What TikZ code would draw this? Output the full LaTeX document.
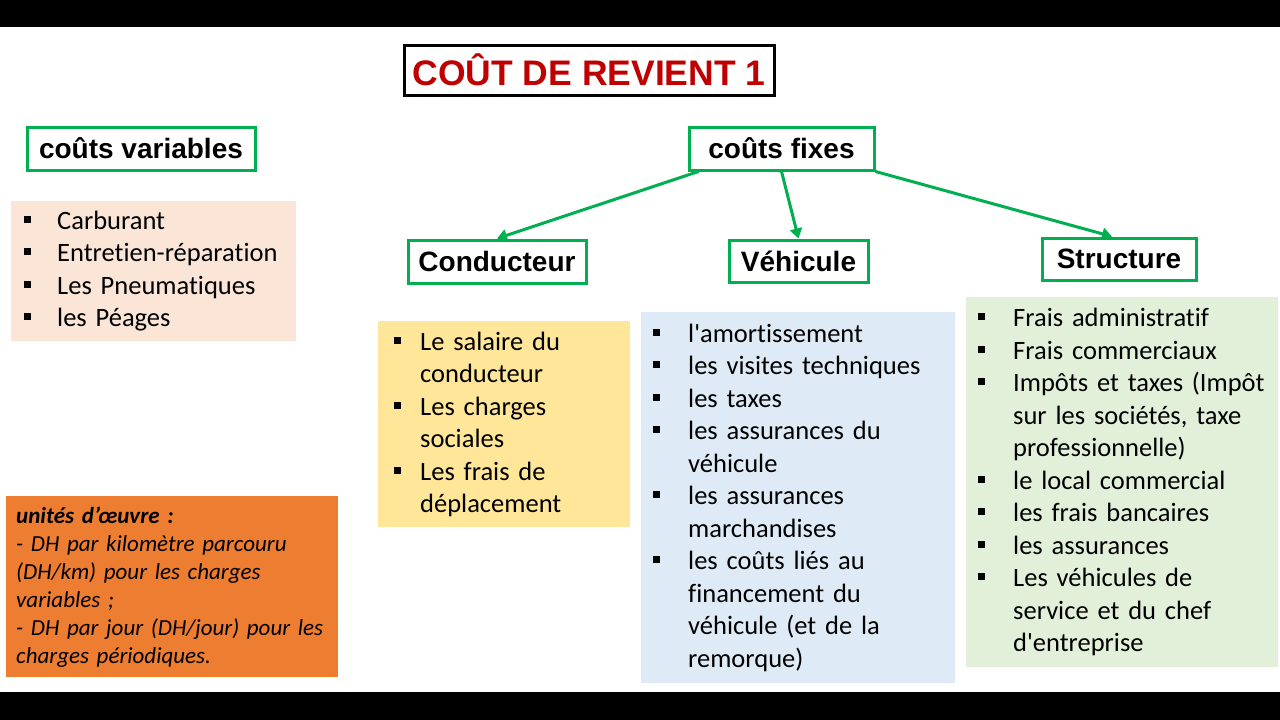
\documentclass[tikz,border=0pt]{standalone}
\usepackage{fontspec}
\setmainfont{Carlito}[Ligatures={TeXOff,NoCommon}]
\newfontfamily\headfont{Liberation Sans}
\usepackage{xcolor}
\usetikzlibrary{positioning, arrows.meta}

\definecolor{vert}{HTML}{00B050}
\definecolor{rouge}{HTML}{C00000}
\definecolor{peche}{HTML}{FBE5D6}
\definecolor{jaune}{HTML}{FFE699}
\definecolor{bleuclair}{HTML}{DEEBF7}
\definecolor{vertclair}{HTML}{E2F0D9}
\definecolor{oeuvre}{HTML}{ED7D31}

\newlength{\bulw}
\newcommand{\itm}[1]{\mbox{\makebox[\bulw][l]{\rule[6.5pt]{7pt}{7pt}}#1}}
\newcommand{\cnt}[1]{\mbox{\hspace*{\bulw}#1}}

\begin{document}
\begin{tikzpicture}[
    x=1pt, y=-1pt,
    head/.style={rectangle, draw=vert, line width=3pt, fill=white, inner sep=0pt, font=\headfont\bfseries\fontsize{28}{32}\selectfont},
    list/.style={rectangle, anchor=north west, align=left, inner ysep=0pt, font=\fontsize{26.5}{32.5}\selectfont},
    bul/.style={execute at begin node={\setlength{\bulw}{#1}}},
    arrow/.style={draw=vert, line width=3pt, -{Triangle[length=10pt, width=12pt]}}
]
    \useasboundingbox (0,0) rectangle (1280,720);
    \fill[white] (0,0) rectangle (1280,720);
    \fill[black] (0,0) rectangle (1280,27);
    \fill[black] (0,692) rectangle (1280,720);

    \node[draw, line width=3pt, minimum width=370, minimum height=50, inner sep=0pt, text=rouge, font=\headfont\bfseries\fontsize{35.5}{40}\selectfont] (titre) at (589,70) {COÛT DE REVIENT 1};

    \node[head, minimum width=228, minimum height=43] (var) at (141,148.5) {coûts variables};
    \node[head, minimum width=185, minimum height=43] (fixes) at (781.5,148.5) {coûts fixes};
    \node[head, minimum width=178, minimum height=43] (cond) at (497,261.5) {Conducteur};
    \node[head, minimum width=139, minimum height=42] (vehi) at (798.5,261) {Véhicule};
    \node[head, minimum width=154, minimum height=42] (struct) at (1119,259) {Structure};

    \node[list, bul=33pt, fill=peche, inner xsep=13, text width=259, minimum height=140] (varlist) at (11,201) {%
        \itm{Carburant}\\
        \itm{Entretien-réparation}\\
        \itm{Les Pneumatiques}\\
        \itm{les Péages}};

    \node[list, bul=26pt, fill=jaune, inner xsep=16, text width=220, minimum height=206] (condlist) at (378,321) {%
        \itm{Le salaire du}\\
        \cnt{conducteur}\\
        \itm{Les charges}\\
        \cnt{sociales}\\
        \itm{Les frais de}\\
        \cnt{déplacement}};

    \node[list, bul=35pt, fill=bleuclair, inner xsep=12, text width=290, minimum height=371] (vehilist) at (641,312) {%
        \itm{l'amortissement}\\
        \itm{les visites techniques}\\
        \itm{les taxes}\\
        \itm{les assurances du}\\
        \cnt{véhicule}\\
        \itm{les assurances}\\
        \cnt{marchandises}\\
        \itm{les coûts liés au}\\
        \cnt{financement du}\\
        \cnt{véhicule (et de la}\\
        \cnt{remorque)}};

    \node[list, bul=35pt, fill=vertclair, inner xsep=12, text width=288, minimum height=370] (structlist) at (966,297) {%
        \itm{Frais administratif}\\
        \itm{Frais commerciaux}\\
        \itm{Impôts et taxes (Impôt}\\
        \cnt{sur les sociétés, taxe}\\
        \cnt{professionnelle)}\\
        \itm{le local commercial}\\
        \itm{les frais bancaires}\\
        \itm{les assurances}\\
        \itm{Les véhicules de}\\
        \cnt{service et du chef}\\
        \cnt{d'entreprise}};

    \node[list, fill=oeuvre, inner xsep=10, text width=312, minimum height=181, font=\itshape\fontsize{23}{28}\selectfont] (unites) at (6,496) {%
        \mbox{\bfseries unités d’œuvre :}\\
        \mbox{- DH par kilomètre parcouru}\\
        \mbox{(DH/km) pour les charges}\\
        \mbox{variables ;}\\
        \mbox{- DH par jour (DH/jour) pour les}\\
        \mbox{charges périodiques.}};

    \draw[arrow] ([xshift=11pt]fixes.south west) -- (cond.north);
    \draw[arrow] (fixes.south) -- (vehi.north);
    \draw[arrow] (fixes.south east) -- ([xshift=-7pt]struct.north);
\end{tikzpicture}
\end{document}
